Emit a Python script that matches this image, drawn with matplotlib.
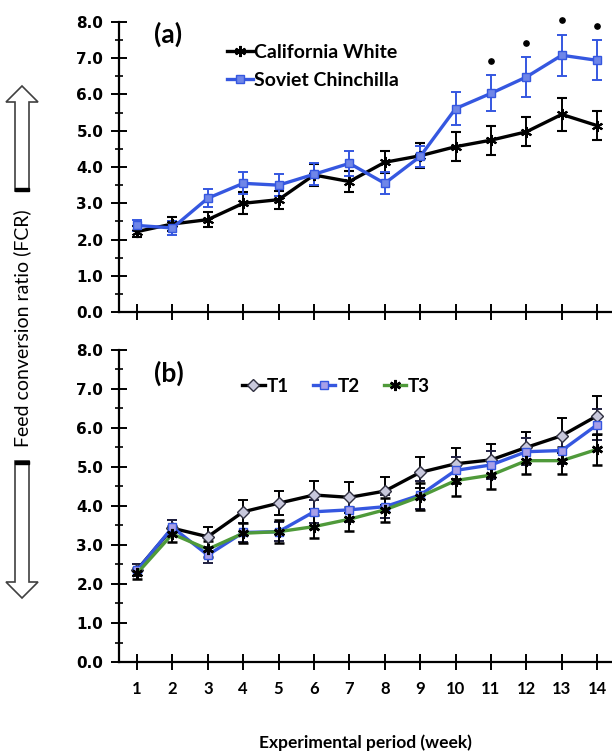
import numpy as np
import matplotlib
matplotlib.use("Agg")
import matplotlib.pyplot as plt
from matplotlib.patches import Polygon, Rectangle

# weeks
weeks = np.arange(1, 15)

# (a) breeds
cw = [2.22, 2.43, 2.55, 3.00, 3.10, 3.78, 3.60, 4.13, 4.31, 4.56, 4.74, 4.97, 5.45, 5.14]
cw_err = [0.15, 0.20, 0.20, 0.30, 0.25, 0.30, 0.30, 0.30, 0.35, 0.40, 0.40, 0.40, 0.45, 0.40]
sc = [2.39, 2.32, 3.14, 3.55, 3.50, 3.80, 4.10, 3.55, 4.29, 5.61, 6.03, 6.48, 7.08, 6.94]
sc_err = [0.15, 0.20, 0.25, 0.30, 0.30, 0.30, 0.35, 0.30, 0.30, 0.45, 0.50, 0.55, 0.57, 0.55]
sig_weeks = [11, 12, 13, 14]

# (b) treatments
t1 = [2.36, 3.43, 3.21, 3.85, 4.07, 4.28, 4.22, 4.38, 4.86, 5.08, 5.18, 5.50, 5.80, 6.31]
t1_err = [0.15, 0.20, 0.25, 0.30, 0.30, 0.35, 0.40, 0.35, 0.40, 0.40, 0.40, 0.40, 0.45, 0.50]
t2 = [2.35, 3.45, 2.74, 3.32, 3.34, 3.85, 3.90, 3.98, 4.28, 4.91, 5.05, 5.39, 5.42, 6.08]
t2_err = [0.15, 0.20, 0.20, 0.25, 0.25, 0.30, 0.30, 0.30, 0.35, 0.35, 0.35, 0.35, 0.35, 0.40]
t3 = [2.27, 3.28, 2.89, 3.30, 3.34, 3.47, 3.66, 3.90, 4.24, 4.65, 4.79, 5.16, 5.16, 5.45]
t3_err = [0.15, 0.20, 0.20, 0.25, 0.30, 0.30, 0.30, 0.30, 0.35, 0.40, 0.35, 0.35, 0.35, 0.40]

BLUE = '#3557e0'
GREEN = '#4f9a3a'
lab_font = ['Lato', 'DejaVu Sans']
ebkw = dict(capsize=3.5, elinewidth=1.4, capthick=1.4)

fig = plt.figure(figsize=(6.12, 7.54), dpi=100)
ax_a = fig.add_axes([0.195, 0.586, 0.805, 0.385])
ax_b = fig.add_axes([0.195, 0.122, 0.805, 0.414])

for ax in (ax_a, ax_b):
    ax.set_xlim(0.5, 14.42)
    ax.set_ylim(0, 8)
    ax.spines['top'].set_visible(False)
    ax.spines['right'].set_visible(False)
    ax.spines['left'].set_linewidth(1.6)
    ax.spines['bottom'].set_linewidth(1.6)
    ax.set_xticks(weeks)
    ax.set_yticks(np.arange(0, 8.1, 1.0))
    ax.set_yticks(np.arange(0.5, 8, 1.0), minor=True)
    ax.set_yticklabels(['%.1f' % v for v in np.arange(0, 8.1, 1.0)],
                       fontsize=11, fontweight='bold', family='DejaVu Sans')
    ax.tick_params(axis='both', which='major', direction='inout', length=11, width=1.4)
    ax.tick_params(axis='y', which='minor', direction='inout', length=6, width=1.2)
    ax.tick_params(axis='y', pad=6)

ax_a.set_xticklabels([])
ax_b.set_xticklabels([str(w) for w in weeks], fontsize=12, fontweight='bold', family=lab_font)
ax_b.tick_params(axis='x', pad=8)

# panel (a)
e_cw = ax_a.errorbar(weeks, cw, yerr=cw_err, color='black', lw=2.4, marker=(6, 2, 0), ms=8,
                     mew=1.5, **ebkw)
e_sc = ax_a.errorbar(weeks, sc, yerr=sc_err, color=BLUE, lw=2.4, marker='s', ms=6,
                     mfc='#6f86e8', mec=BLUE, **ebkw)
sig_idx = [w - 1 for w in sig_weeks]
ax_a.plot(sig_weeks, [sc[i] + sc_err[i] + 0.4 for i in sig_idx], ls='none',
          marker='o', ms=3.8, color='black', clip_on=False)
ax_a.text(0.071, 0.958, '(a)', transform=ax_a.transAxes, fontsize=19, fontweight='bold',
          family=lab_font, va='center')
ax_a.legend([e_cw[0], e_sc[0]], ['California White', 'Soviet Chinchilla'],
            loc='upper left', bbox_to_anchor=(0.219, 0.925), frameon=False,
            borderpad=0, borderaxespad=0,
            handlelength=1.35, handletextpad=0.05, labelspacing=0.6,
            prop={'family': lab_font, 'weight': 'bold', 'size': 14})

# panel (b)
e1 = ax_b.errorbar(weeks, t1, yerr=t1_err, color='black', lw=2.4, marker='D', ms=6,
                   mfc='#c8c8dc', mec='#303040', **ebkw)
e2 = ax_b.errorbar(weeks, t2, yerr=t2_err, color=BLUE, lw=2.4, marker='s', ms=6,
                   mfc='#a8a0e8', mec=BLUE, ecolor='#202040', **ebkw)
e3 = ax_b.errorbar(weeks, t3, yerr=t3_err, color=GREEN, lw=2.4, marker=(6, 2, 0), ms=8,
                   mec='black', mew=1.8, ecolor='black', **ebkw)
ax_b.text(0.071, 0.924, '(b)', transform=ax_b.transAxes, fontsize=19, fontweight='bold',
          family=lab_font, va='center')
ax_b.legend([e1[0], e2[0], e3[0]], ['T1', 'T2', 'T3'],
            loc='upper left', bbox_to_anchor=(0.249, 0.91), frameon=False, ncol=3,
            borderpad=0, borderaxespad=0,
            handlelength=1.2, handletextpad=0.1, columnspacing=1.3,
            prop={'family': lab_font, 'weight': 'bold', 'size': 13.5})

ax_b.set_xlabel('Experimental period (week)', fontsize=12.5, fontweight='bold',
                family=lab_font, labelpad=27)

# y label with arrows
fig.text(0.036, 0.565, 'Feed conversion ratio (FCR)', rotation=90, ha='center', va='center',
         fontsize=14, family=lab_font)


def block_arrow(xc, y_tail, y_tip):
    # hollow arrow, given in figure pixels measured from the top
    W, H = 612.0, 754.0
    sw, hw, hl = 7, 16, 16
    d = -1 if y_tip < y_tail else 1
    yb = y_tip - d * hl
    pts = [(xc - sw, y_tail), (xc - sw, yb), (xc - hw, yb), (xc, y_tip),
           (xc + hw, yb), (xc + sw, yb), (xc + sw, y_tail)]
    fig.patches.append(Polygon([(x / W, 1 - y / H) for x, y in pts], closed=True,
                               transform=fig.transFigure, fc='white', ec='#404040', lw=1.2))
    yr = y_tail if d < 0 else y_tail + 3
    fig.patches.append(Rectangle(((xc - sw) / W, 1 - yr / H), 2 * sw / W, 3 / H,
                                 transform=fig.transFigure, fc='black', ec='black'))


block_arrow(22, 191, 86)
block_arrow(22, 461, 598)

fig.savefig('out.png', dpi=100)
